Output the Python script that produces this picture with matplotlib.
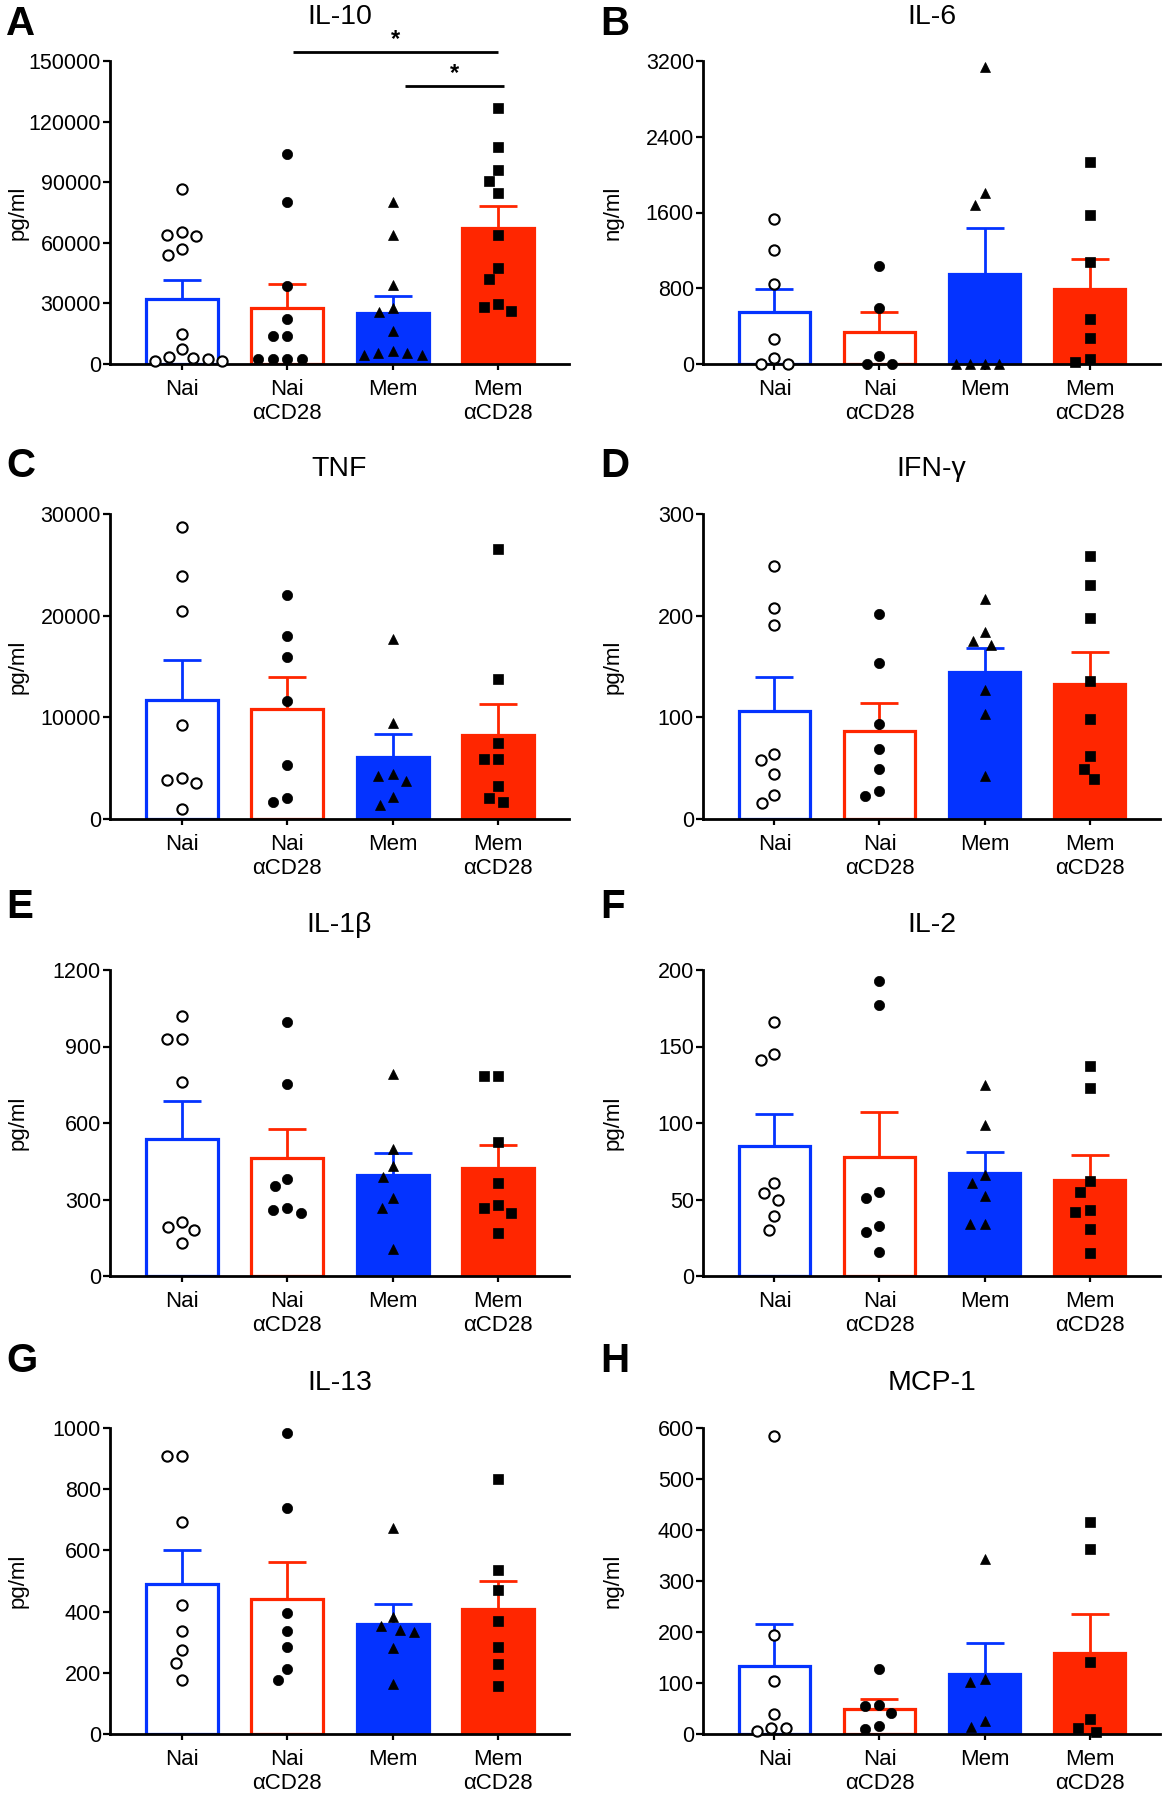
import numpy as np
import matplotlib
matplotlib.use("Agg")
import matplotlib.pyplot as plt

plt.rcParams['font.family'] = ['Liberation Sans', 'DejaVu Sans']

# ---------------- data ----------------
groups = ["Nai", "Nai\nαCD28", "Mem", "Mem\nαCD28"]

titles = ["IL-10", "IL-6", "TNF", "IFN-γ", "IL-1β", "IL-2", "IL-13", "MCP-1"]
letters = ["A", "B", "C", "D", "E", "F", "G", "H"]
units = ["pg/ml", "ng/ml", "pg/ml", "pg/ml", "pg/ml", "pg/ml", "pg/ml", "ng/ml"]
yticks = [
    [0, 30000, 60000, 90000, 120000, 150000],
    [0, 800, 1600, 2400, 3200],
    [0, 10000, 20000, 30000],
    [0, 100, 200, 300],
    [0, 300, 600, 900, 1200],
    [0, 50, 100, 150, 200],
    [0, 200, 400, 600, 800, 1000],
    [0, 100, 200, 300, 400, 500, 600],
]

# bar means and SEM
means = [
    [32000, 27500, 25100, 67200],
    [544, 333, 947, 793],
    [11700, 10850, 6110, 8270],
    [106, 87, 145, 133],
    [539, 462, 398, 424],
    [85, 78, 67, 63],
    [489, 442, 361, 409],
    [133, 49, 118, 158],
]
sems = [
    [9600, 12100, 8600, 11200],
    [253, 218, 488, 319],
    [3950, 3140, 2220, 3040],
    [34, 27, 23, 31],
    [147, 114, 84, 90],
    [21, 29, 14, 16],
    [111, 120, 63, 90],
    [82, 20, 61, 77],
]

# individual points
il10 = [
    [86500, 65200, 63900, 63500, 56800, 54000, 14900, 7300, 3600, 2800, 2500, 1500, 1500],
    [104100, 80400, 38600, 22300, 13900, 13900, 2300, 2300, 2300, 2300],
    [80000, 63900, 39100, 27500, 25600, 16500, 6600, 5300, 5300, 4500, 4500],
    [126600, 107400, 96200, 90600, 84800, 63700, 47700, 41900, 29700, 28400, 26200],
]
il6 = [
    [1533, 1200, 846, 263, 67, 0, 0],
    [1035, 590, 84, 0, 0],
    [3133, 1804, 1684, 0, 0, 0, 0],
    [2137, 1572, 1074, 474, 277, 53, 18],
]
tnf = [
    [28700, 23900, 20500, 9200, 4000, 3800, 3500, 1000],
    [22000, 18000, 15900, 11600, 5300, 2100, 1700],
    [17700, 9400, 4400, 4200, 3700, 2200, 1400],
    [26600, 13800, 7500, 5900, 5900, 3200, 2100, 1700],
]
ifng = [
    [249, 208, 191, 64, 58, 44, 24, 16],
    [202, 153, 93, 69, 49, 28, 23],
    [216, 184, 175, 171, 127, 103, 42],
    [259, 230, 198, 136, 98, 62, 49, 39],
]
il1b = [
    [1018, 928, 928, 762, 211, 192, 182, 131],
    [995, 751, 382, 353, 267, 259, 249],
    [792, 500, 432, 389, 306, 266, 107],
    [785, 785, 526, 364, 280, 268, 249, 170],
]
il2 = [
    [166, 145, 141, 61, 54, 50, 39, 30],
    [193, 177, 55, 51, 33, 29, 16],
    [125, 99, 66, 61, 52, 34, 34],
    [137, 123, 62, 55, 43, 42, 31, 15],
]
il13 = [
    [907, 907, 692, 421, 336, 276, 232, 176],
    [983, 739, 396, 336, 285, 212, 176],
    [674, 383, 354, 341, 334, 282, 165],
    [833, 535, 470, 368, 285, 230, 157],
]
mcp1 = [
    [585, 195, 103, 39, 11, 11, 6],
    [128, 57, 55, 41, 16, 9],
    [343, 108, 102, 26, 14],
    [415, 362, 141, 29, 11, 3],
]
points = [il10, il6, tnf, ifng, il1b, il2, il13, mcp1]

# significance brackets for IL-10
sig_x0 = [1.05, 2.12]
sig_x1 = [3.0, 3.05]
sig_y = [154300, 137600]
sig_star_y = [160500, 143800]

# ---------------- style ----------------
BLUE = "#0433FF"
RED = "#FF2600"
face_colors = ["white", "white", BLUE, RED]
edge_colors = [BLUE, RED, BLUE, RED]
markers = ["o", "o", "^", "s"]
mfaces = ["white", "black", "black", "black"]
msizes = [7.4, 7.4, 7.6, 7.2]

W, H = 1168, 1800
fig = plt.figure(figsize=(W / 100, H / 100), dpi=100)

col_left = [110, 703]
col_right = [569, 1160]
row_top = [61, 514, 970, 1428]
row_bot = [364, 819, 1276, 1734]
letter_x = [6, 600]
letter_yc = [24, 466, 907, 1361]
XLIM = (-0.68, 3.67)

def swarm_offsets(vals, px_per_y, px_per_x, diam=14.5):
    placed = []
    offs = []
    cands = [0.0]
    for k in range(1, 200):
        cands += [-k * 0.5, k * 0.5]
    for v in vals:
        yp = v * px_per_y
        for c in cands:
            ok = True
            for (xq, yq) in placed:
                if (c - xq) ** 2 + (yp - yq) ** 2 < diam ** 2:
                    ok = False
                    break
            if ok:
                placed.append((c, yp))
                offs.append(c / px_per_x)
                break
    return np.array(offs)

for i in range(8):
    r, c = divmod(i, 2)
    l, rt = col_left[c], col_right[c]
    t, b = row_top[r], row_bot[r]
    ax = fig.add_axes([l / W, 1 - b / H, (rt - l) / W, (b - t) / H])
    ymax = yticks[i][-1]
    ax.set_xlim(*XLIM)
    ax.set_ylim(0, ymax)
    xs = np.arange(4)
    ax.bar(xs, means[i], width=0.68, color=face_colors, edgecolor=edge_colors,
           linewidth=2.3, zorder=2)
    for g in range(4):
        ax.errorbar(xs[g], means[i][g], yerr=[[0], [sems[i][g]]], fmt='none',
                    ecolor=edge_colors[g], elinewidth=2.0, capsize=13.5,
                    capthick=2.0, zorder=2.2)
    px_per_x = (rt - l) / (XLIM[1] - XLIM[0])
    px_per_y = (b - t) / ymax
    for g in range(4):
        vals = points[i][g]
        offs = swarm_offsets(vals, px_per_y, px_per_x)
        ax.plot(xs[g] + offs, vals, linestyle='none', marker=markers[g],
                markersize=msizes[g], markerfacecolor=mfaces[g],
                markeredgecolor='black', markeredgewidth=1.5 if g == 0 else 0.5,
                clip_on=False, zorder=5)
    for s in ["top", "right"]:
        ax.spines[s].set_visible(False)
    for s in ["left", "bottom"]:
        ax.spines[s].set_linewidth(2.0)
        ax.spines[s].set_zorder(4)
    ax.set_yticks(yticks[i])
    ax.set_yticklabels([str(v) for v in yticks[i]])
    ax.set_xticks(xs)
    ax.set_xticklabels(groups)
    ax.tick_params(axis='y', length=5, width=1.6, labelsize=15.5, pad=1.5)
    ax.tick_params(axis='x', length=4, width=1.6, labelsize=16, pad=6.5)
    ax.set_ylabel(units[i], fontsize=16)
    ax.yaxis.set_label_coords(-0.178 if c == 0 else -0.173, 0.5)
    ax.set_title(titles[i], fontsize=20.5, pad=27)
    fig.text(letter_x[c] / W, 1 - letter_yc[r] / H, letters[i], fontsize=29,
             fontweight='bold', ha='left', va='center')
    if i == 0:
        for k in range(2):
            ax.plot([sig_x0[k], sig_x1[k]], [sig_y[k], sig_y[k]], color='black',
                    linewidth=2.0, clip_on=False, solid_capstyle='butt')
            ax.text((sig_x0[k] + sig_x1[k]) / 2, sig_star_y[k], "*", ha='center',
                    va='center', fontsize=17, fontweight='bold')

fig.savefig("out.png", dpi=100, facecolor='white')
